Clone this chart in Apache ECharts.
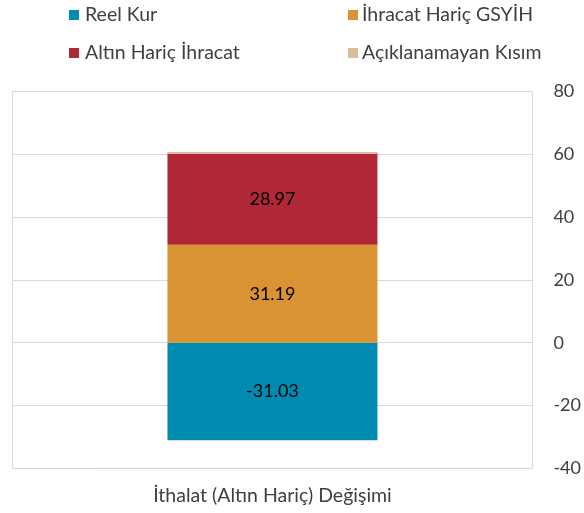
<!DOCTYPE html>
<html><head><meta charset="utf-8">
<script src="https://cdn.jsdelivr.net/npm/echarts@6/dist/echarts.min.js"></script>
<style>html,body{margin:0;padding:0;background:#fff}#c{width:584px;height:513px}</style>
</head><body><div id="c"></div>
<script>
var categories = ["İthalat (Altın Hariç) Değişimi"];
var seriesNames = ["Reel Kur", "İhracat Hariç GSYİH", "Altın Hariç İhracat", "Açıklanamayan Kısım"];
var reelKur = [-31.03];
var ihracatHaricGsyih = [31.19];
var altinHaricIhracat = [28.97];
var aciklanamayan = [0.6];
var yTicks = [-40, -20, 0, 20, 40, 60, 80];

var colors = ["#008CB0", "#DA9332", "#B02737", "#D6BE9A"];
var font = "Lato, 'Open Sans', sans-serif";
var chart = echarts.init(document.getElementById('c'));
var legendPos = [[69, 5], [348, 5], [69, 43], [348, 43]];
var legendGap = [7, 5, 7, 5];
var lbl = {show: true, position: 'inside', color: '#000', fontSize: 18, fontFamily: font,
  formatter: function(p){ return p.value.toFixed(2); }};
var datas = [reelKur, ihracatHaricGsyih, altinHaricIhracat, aciklanamayan];
chart.setOption({
  animation: false,
  color: colors,
  legend: seriesNames.map(function(n, i){
    return {data: [n], left: legendPos[i][0], top: legendPos[i][1], itemWidth: 10, itemHeight: 10,
      itemGap: 5, padding: 0, icon: 'rect', textStyle: {fontSize: 19.5, color: '#404040', fontFamily: font, padding: [0,0,0,legendGap[i]-6]}, selectedMode: false};
  }),
  grid: {left: 12.5, right: 48.5, top: 91.5, bottom: 44.7, show: true, borderColor: '#d9d9d9', borderWidth: 1},
  xAxis: {type: 'category', data: categories, axisLine: {show: false}, axisTick: {show: false},
    axisLabel: {fontSize: 19.5, color: '#404040', fontFamily: font, margin: 17}},
  yAxis: {type: 'value', position: 'right', min: yTicks[0], max: yTicks[yTicks.length-1], interval: 20,
    axisLine: {show: false}, axisTick: {show: false},
    axisLabel: {fontSize: 18, color: '#404040', fontFamily: font, margin: 21},
    splitLine: {lineStyle: {color: '#d9d9d9'}}},
  series: datas.map(function(d, i){
    return {name: seriesNames[i], type: 'bar', stack: 's', data: d, barWidth: 210,
      label: i < 3 ? lbl : {show: false}};
  })
});
</script></body></html>
